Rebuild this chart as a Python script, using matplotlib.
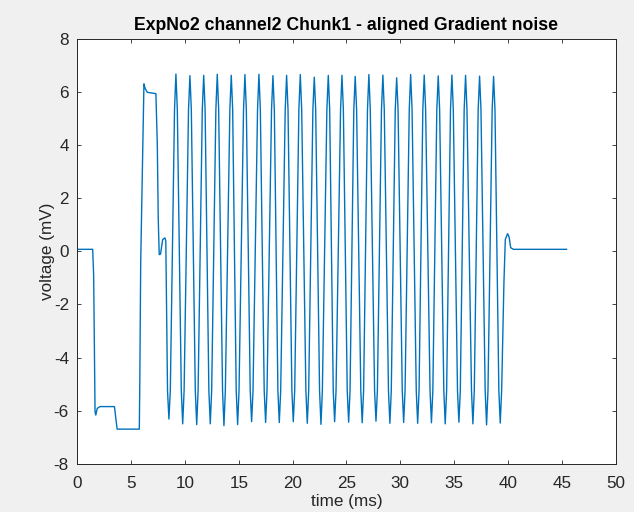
import matplotlib.pyplot as plt
import numpy as np

TITLE = "ExpNo2 channel2 Chunk1 - aligned Gradient noise"
X_LABEL = "time (ms)"
Y_LABEL = "voltage (mV)"

# lead-in before the gradient train (ms, mV)
lead_t = [0.0, 1.43, 1.52, 1.60, 1.65, 1.72, 1.85, 2.10, 3.45, 3.55, 3.70,
          5.76, 5.80, 5.89, 5.99, 6.12, 6.19, 6.30, 6.50, 7.30, 7.43, 7.52,
          7.61, 7.73, 7.93, 8.14, 8.22]
lead_v = [0.08, 0.08, -0.9, -3.9, -6.05, -6.17, -5.92, -5.85, -5.85, -6.2, -6.7,
          -6.7, -5.2, -0.4, 1.82, 4.63, 6.32, 6.15, 6.0, 5.95, 4.07, 1.2,
          -0.12, -0.10, 0.45, 0.51, 0.40]

# gradient oscillation: troughs and peaks
trough_t = [8.51, 9.79, 11.09, 12.35, 13.62, 14.89, 16.19, 17.49, 18.76, 20.06,
            21.36, 22.63, 23.90, 25.20, 26.46, 27.74, 29.03, 30.31, 31.61, 32.89,
            34.17, 35.44, 36.74, 38.01, 39.28]
trough_v = [-6.32, -6.50, -6.53, -6.50, -6.57, -6.53, -6.42, -6.45, -6.45, -6.42,
            -6.48, -6.52, -6.42, -6.44, -6.46, -6.40, -6.48, -6.45, -6.48, -6.46,
            -6.50, -6.44, -6.50, -6.54, -6.47]
peak_t = [9.16, 10.46, 11.74, 13.00, 14.30, 15.57, 16.87, 18.17, 19.44, 20.71,
          22.01, 23.31, 24.58, 25.81, 27.08, 28.38, 29.66, 30.96, 32.22, 33.52,
          34.79, 36.06, 37.36, 38.66]
peak_v = [6.69, 6.63, 6.64, 6.68, 6.64, 6.67, 6.68, 6.63, 6.64, 6.67,
          6.57, 6.64, 6.64, 6.60, 6.67, 6.65, 6.55, 6.67, 6.65, 6.62,
          6.65, 6.64, 6.61, 6.60]

# where each edge leaves / enters the rounded tips
upper_shoulder_v = 5.35
lower_shoulder_v = -5.25
peak_rise_t = [9.03, 10.33, 11.61, 12.87, 14.17, 15.44, 16.74, 18.04, 19.31, 20.58,
               21.88, 23.18, 24.45, 25.68, 26.95, 28.25, 29.53, 30.83, 32.09, 33.39,
               34.66, 35.93, 37.23, 38.53]
peak_fall_t = [9.29, 10.59, 11.87, 13.13, 14.43, 15.70, 17.00, 18.30, 19.57, 20.84,
               22.14, 23.44, 24.71, 25.94, 27.21, 28.51, 29.79, 31.09, 32.35, 33.65,
               34.92, 36.19, 37.49, 38.79]
trough_fall_t = [8.38, 9.66, 10.96, 12.22, 13.49, 14.76, 16.06, 17.36, 18.63, 19.93,
                 21.23, 22.50, 23.77, 25.07, 26.33, 27.61, 28.90, 30.18, 31.48, 32.76,
                 34.04, 35.31, 36.61, 37.88, 39.15]
trough_rise_t = [8.64, 9.92, 11.22, 12.48, 13.75, 15.02, 16.32, 17.62, 18.89, 20.19,
                 21.49, 22.76, 24.03, 25.33, 26.59, 27.87, 29.16, 30.44, 31.74, 33.02,
                 34.30, 35.57, 36.87, 38.14, 39.41]

# settling after the train
tail_t = [39.62, 39.75, 39.96, 40.10, 40.25, 40.50, 45.44]
tail_v = [-1.2, 0.45, 0.67, 0.55, 0.14, 0.08, 0.08]


def build_trace():
    ts, vs = list(lead_t), list(lead_v)
    for i in range(len(trough_t)):
        ts += [trough_fall_t[i], trough_t[i], trough_rise_t[i]]
        vs += [lower_shoulder_v, trough_v[i], lower_shoulder_v]
        if i < len(peak_t):
            ts += [peak_rise_t[i], peak_t[i], peak_fall_t[i]]
            vs += [upper_shoulder_v, peak_v[i], upper_shoulder_v]
    ts += tail_t
    vs += tail_v
    return np.array(ts), np.array(vs)


plt.rcParams["font.family"] = ["Liberation Sans", "DejaVu Sans"]
plt.rcParams["axes.unicode_minus"] = False
axis_color = "#262626"

fig = plt.figure(figsize=(6.34, 5.12), dpi=100, facecolor="#f0f0f0")
ax = fig.add_axes([0.1219, 0.0945, 0.8492, 0.8288])
ax.set_facecolor("white")

t, v = build_trace()
ax.plot(t, v, color="#0072bd", linewidth=1.0)

ax.set_xlim(0, 50)
ax.set_ylim(-8, 8)
ax.set_xticks(np.arange(0, 51, 5))
ax.set_yticks(np.arange(-8, 9, 2))
ax.tick_params(direction="in", length=3, width=0.6, colors=axis_color,
               labelsize=12.3, top=True, right=True, pad=6)
ax.tick_params(axis="x", pad=9)
for s in ax.spines.values():
    s.set_color(axis_color)
    s.set_linewidth(0.7)

ax.set_title(TITLE, fontsize=12.7, fontweight="bold", color="black", pad=7)
ax.set_xlabel(X_LABEL, fontsize=12.3, color=axis_color, labelpad=2)
ax.set_ylabel(Y_LABEL, fontsize=12.3, color=axis_color, labelpad=-1)

fig.savefig("out.png", dpi=100, facecolor=fig.get_facecolor())
